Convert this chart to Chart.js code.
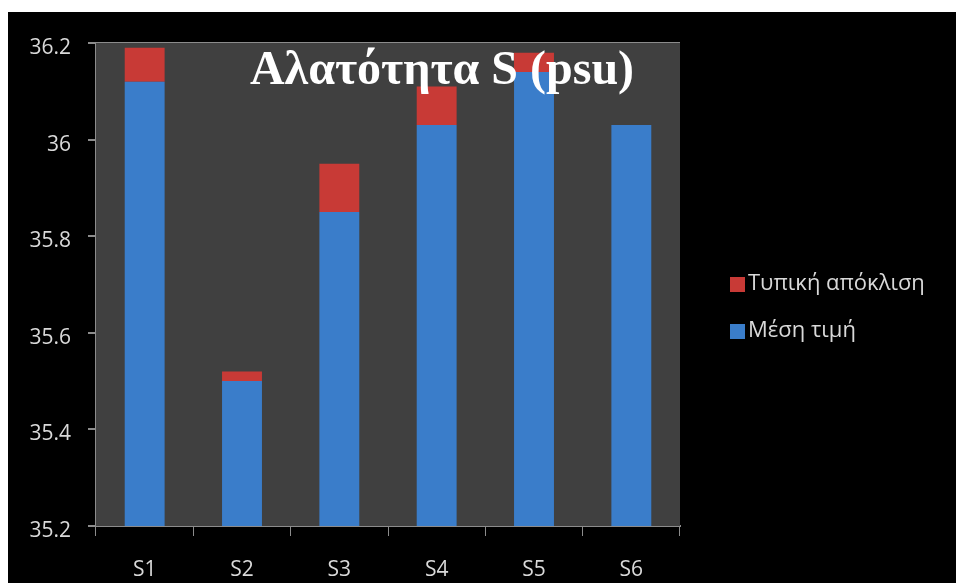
<!DOCTYPE html>
<html>
<head>
<meta charset="utf-8">
<script src="https://cdn.jsdelivr.net/npm/chart.js@4/dist/chart.umd.min.js"></script>
<style>
  html, body { margin: 0; padding: 0; background: #ffffff; }
  #wrap { position: absolute; left: 8px; top: 12px; width: 948px; height: 571px; background: #000000; }
</style>
</head>
<body>
<div id="wrap"><canvas id="chart" width="948" height="571"></canvas></div>
<script>
const stations = ["S1", "S2", "S3", "S4", "S5", "S6"];
const meanValues = [36.12, 35.50, 35.85, 36.03, 36.14, 36.03];
const stdValues = [0.07, 0.02, 0.10, 0.08, 0.04, 0];
const yTicks = [35.2, 35.4, 35.6, 35.8, 36, 36.2];
const chartTitle = "Αλατότητα S (psu)";
const meanLabel = "Μέση τιμή";
const stdLabel = "Τυπική απόκλιση";

const FONT = "'Open Sans', 'DejaVu Sans', sans-serif";
const blue = "rgb(58, 125, 202)";
const red = "rgb(200, 58, 54)";

// red segments get a light-to-dark vertical shade like the original
function redShade(context) {
  const el = context.element;
  if (!el || el.y === undefined || el.base === undefined) return red;
  const g = context.chart.ctx.createLinearGradient(0, el.y, 0, el.base);
  g.addColorStop(0, "rgb(212, 64, 58)");
  g.addColorStop(1, "rgb(168, 44, 40)");
  return g;
}

// dark plot background, title drawn over the bars, and a legend at the right
const decor = {
  id: "decor",
  beforeDatasetsDraw(chart) {
    const { ctx, chartArea: a } = chart;
    ctx.save();
    ctx.fillStyle = "#404040";
    ctx.fillRect(a.left, a.top, a.right - a.left, a.bottom - a.top);
    ctx.restore();
  },
  afterDatasetsDraw(chart) {
    const { ctx } = chart;
    ctx.save();
    ctx.fillStyle = "#ffffff";
    ctx.font = "bold 48px 'Liberation Serif', 'DejaVu Serif', serif";
    ctx.textAlign = "center";
    ctx.textBaseline = "alphabetic";
    ctx.fillText(chartTitle, 434, 72);

    const items = [
      { text: stdLabel, color: red },
      { text: meanLabel, color: blue }
    ];
    ctx.font = "22px " + FONT;
    ctx.textAlign = "left";
    ctx.textBaseline = "middle";
    items.forEach((it, i) => {
      const y = 272 + i * 47;
      ctx.fillStyle = it.color;
      ctx.fillRect(722, y - 7, 15, 15);
      ctx.fillStyle = "#d9d9d9";
      ctx.fillText(it.text, 740, y);
    });
    ctx.restore();
  }
};

new Chart(document.getElementById("chart"), {
  type: "bar",
  data: {
    labels: stations,
    datasets: [
      {
        label: meanLabel,
        data: meanValues,
        backgroundColor: blue,
        barPercentage: 0.41,
        categoryPercentage: 1
      },
      {
        label: stdLabel,
        data: stdValues,
        backgroundColor: redShade,
        barPercentage: 0.41,
        categoryPercentage: 1
      }
    ]
  },
  options: {
    responsive: false,
    animation: false,
    layout: { padding: { top: 31, right: 276, left: 0, bottom: 0 } },
    plugins: {
      legend: { display: false },
      title: { display: false },
      tooltip: { enabled: false }
    },
    scales: {
      x: {
        stacked: true,
        grid: {
          offset: true,
          drawOnChartArea: false,
          drawTicks: true,
          tickLength: 10,
          color: "#8c8c8c"
        },
        border: { color: "#8c8c8c", width: 2 },
        ticks: { color: "#d9d9d9", font: { family: FONT, size: 21 }, padding: 21 },
        afterFit(scale) { scale.height = 57; }
      },
      y: {
        stacked: true,
        min: 35.2,
        max: 36.2,
        afterBuildTicks(scale) {
          scale.ticks = yTicks.map(v => ({ value: v }));
        },
        grid: { color: "#8c8c8c", lineWidth: 2, tickLength: 8 },
        border: { color: "#8c8c8c", width: 2 },
        ticks: {
          color: "#d9d9d9",
          font: { family: FONT, size: 21 },
          padding: 17,
          labelOffset: 5,
          callback: (v) => String(Math.round(v * 10) / 10)
        },
        afterFit(scale) { scale.width = 88; }
      }
    }
  },
  plugins: [decor]
});
</script>
</body>
</html>
